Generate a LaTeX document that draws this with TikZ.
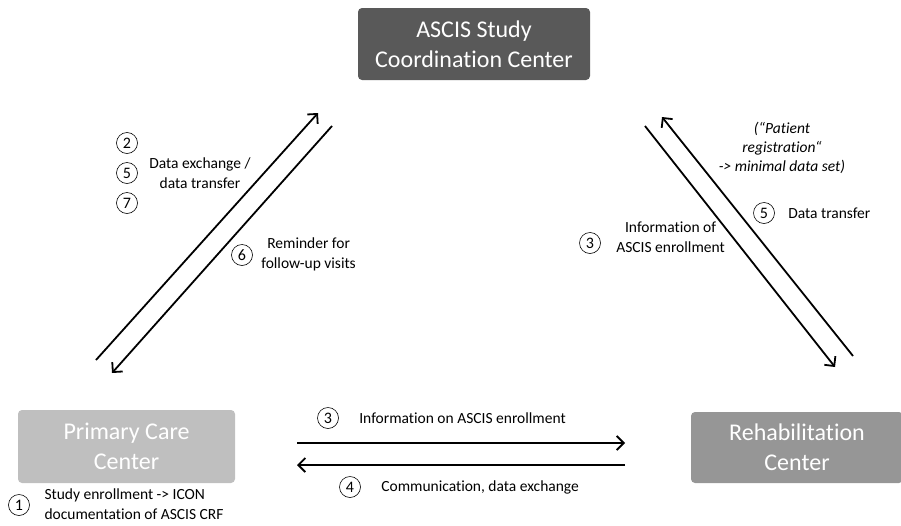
\documentclass[tikz,border=0pt]{standalone}
\usepackage{fontspec}
\setmainfont{Carlito}[Ligatures={NoCommon}]
\usepackage{tikz}
\usetikzlibrary{positioning,arrows.meta}

\begin{document}
\begin{tikzpicture}[
  x=1pt, y=-1pt,
  every node/.style = {align=center},
  center/.style = {shape=rectangle, rounded corners=4pt, text=white,
    font=\fontsize{24}{30}\selectfont},
  flow/.style = {line width=1.8pt, -{Straight Barb[length=7pt,width=14pt,line width=1.8pt]}},
  num/.style = {shape=circle, draw, line width=0.6pt, minimum size=21pt, inner sep=0pt,
    font=\fontsize{16}{16}\selectfont},
  lbl/.style = {font=\fontsize{15.5}{20}\selectfont}
    ]
  \useasboundingbox (0,0) rectangle (901,525);

  % centers
  \node[center, fill=black!65, minimum width=232pt, minimum height=72pt] (ascis) at (474,44)
    {ASCIS Study\\Coordination Center};
  \node[center, fill=black!25, minimum width=217pt, minimum height=73pt] (primary) at (126.5,446.5)
    {Primary Care\\Center};
  \node[center, fill=black!41, minimum width=212pt, minimum height=71pt] (rehab) at (797,447.5)
    {Rehabilitation\\Center};

  % arrow ends
  \coordinate (pu1) at (96,360);  \coordinate (pu2) at (318,113);
  \coordinate (pd1) at (332,126); \coordinate (pd2) at (112,373);
  \coordinate (rd1) at (645,126); \coordinate (rd2) at (835,367);
  \coordinate (ru1) at (853,356); \coordinate (ru2) at (662,117);
  \coordinate (hr1) at (297,443); \coordinate (hr2) at (625,443);
  \coordinate (hl1) at (625,465); \coordinate (hl2) at (297,465);

  \draw[flow] (pu1) -- (pu2);
  \draw[flow] (pd1) -- (pd2);
  \draw[flow] (rd1) -- (rd2);
  \draw[flow] (ru1) -- (ru2);
  \draw[flow] (hr1) -- (hr2);
  \draw[flow] (hl1) -- (hl2);

  % labels
  \node[num] (n2) at (127,143) {2};
  \node[num] (n5a) at (127,173) {5};
  \node[num] (n7) at (127,203) {7};
  \node[lbl] (exch) at (200,173) {Data exchange /\\data transfer};

  \node[num] (n6) at (242,255) {6};
  \node[lbl, right=5pt of n6, yshift=1pt] (remind) {Reminder for\\follow-up visits};

  \node[lbl, font=\fontsize{15.5}{19}\selectfont\itshape] (patient) at (782,148)
    {(“Patient\\registration“\\-> minimal data set)};
  \node[num] (n5b) at (764,213) {5};
  \node[lbl, right=10pt of n5b] (transfer) {Data transfer};

  \node[num] (n3a) at (590,243) {3};
  \node[lbl, right=12pt of n3a, yshift=6pt] (infoof) {Information of\\ASCIS enrollment};

  \node[num] (n3b) at (328,418) {3};
  \node[lbl, right=17pt of n3b] (infoon) {Information on ASCIS enrollment};
  \node[num] (n4) at (350,487) {4};
  \node[lbl, right=17pt of n4] (comm) {Communication, data exchange};

  \node[num] (n1) at (19,505) {1};
  \node[lbl, align=left, anchor=west] (enroll) at (41,504)
    {Study enrollment -> ICON\\documentation of ASCIS CRF};
\end{tikzpicture}
\end{document}
